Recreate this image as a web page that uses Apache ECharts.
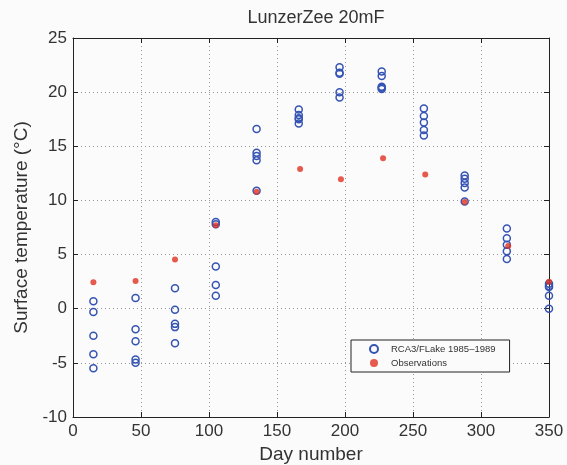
<!DOCTYPE html>
<html>
<head>
<meta charset="utf-8">
<script src="https://cdn.jsdelivr.net/npm/echarts@6/dist/echarts.min.js"></script>
<style>
html,body{margin:0;padding:0;background:#fbfbfc;}
#chart{width:567px;height:465px;}
</style>
</head>
<body>
<div id="chart"></div>
<script>
var titleText = 'LunzerZee 20mF';
var xTicks = [0, 50, 100, 150, 200, 250, 300, 350];
var yTicks = [-10, -5, 0, 5, 10, 15, 20, 25];
var modelDays = [15, 46, 75, 105, 135, 166, 196, 227, 258, 288, 319, 350];
var modelRuns = [
  [0.7, -0.3, -2.5, -4.2, -5.5],
  [1.0, -1.9, -3.0, -4.7, -5.0],
  [1.9, -0.1, -1.4, -1.7, -3.2],
  [8.0, 7.8, 3.9, 2.2, 1.2],
  [16.6, 14.4, 14.1, 13.7, 10.9],
  [18.4, 17.9, 17.6, 17.5, 17.1],
  [22.3, 21.8, 21.7, 20.0, 19.5],
  [21.9, 21.5, 20.5, 20.4, 20.3],
  [18.5, 17.8, 17.2, 16.5, 16.0],
  [12.3, 12.0, 11.6, 11.2, 9.9],
  [7.4, 6.5, 5.9, 5.3, 4.6],
  [2.3, 2.1, 2.0, 1.2, 0.0]
];
var obsDays = [15, 46, 75, 105, 135, 167, 197, 228, 259, 288, 320, 350];
var obsValues = [2.45, 2.55, 4.55, 7.7, 10.8, 12.9, 11.95, 13.9, 12.4, 9.85, 5.8, 2.5];
var modelName = 'RCA3/FLake 1985\u20131989';
var obsName = 'Observations';

var modelData = [];
modelDays.forEach(function (d, i) {
  modelRuns[i].forEach(function (v) { modelData.push([d, v]); });
});
var obsData = obsDays.map(function (d, i) { return [d, obsValues[i]]; });

var font = 'Liberation Sans, Arial, Helvetica, sans-serif';
var textColor = '#333';
var chart = echarts.init(document.getElementById('chart'), null, {renderer: 'canvas'});
var xMin = xTicks[0], xMax = xTicks[xTicks.length - 1];
var yMin = yTicks[0], yMax = yTicks[yTicks.length - 1];

function baseAxis(extra) {
  return Object.assign({
    type: 'value',
    axisLine: {show: true, onZero: false, lineStyle: {color: '#222', width: 1}},
    axisTick: {show: true, inside: true, length: 5, lineStyle: {color: '#222'}},
    splitLine: {show: false}
  }, extra);
}

chart.setOption({
  backgroundColor: '#fbfbfc',
  animation: false,
  title: {
    text: titleText, left: 311, top: 4, textAlign: 'center',
    textStyle: {fontFamily: font, fontSize: 18, fontWeight: 'normal', color: textColor}
  },
  grid: {left: 73, right: 18, top: 38, bottom: 48, containLabel: false, outerBoundsMode: 'none'},
  legend: {
    left: 351, top: 340, orient: 'vertical',
    itemWidth: 8, itemHeight: 8, itemGap: 4,
    padding: [4, 14, 4, 18],
    borderColor: '#222', borderWidth: 1,
    backgroundColor: '#fbfbfc',
    textStyle: {fontFamily: font, fontSize: 9.5, color: textColor, padding: [0, 0, 0, 8]},
    data: [modelName, obsName]
  },
  xAxis: [
    baseAxis({
      min: xMin, max: xMax, interval: 50, position: 'bottom',
      name: 'Day number', nameLocation: 'middle', nameGap: 19,
      nameTextStyle: {fontFamily: font, fontSize: 19, color: textColor},
      axisLabel: {fontFamily: font, fontSize: 17, color: textColor, margin: 6},
      splitLine: {show: true, lineStyle: {color: '#999', type: [1, 3], width: 1}}
    }),
    baseAxis({min: xMin, max: xMax, interval: 50, position: 'top', axisLabel: {show: false}})
  ],
  yAxis: [
    baseAxis({
      min: yMin, max: yMax, interval: 5, position: 'left',
      name: 'Surface temperature (\u00B0C)', nameLocation: 'middle', nameGap: 39,
      nameTextStyle: {fontFamily: font, fontSize: 19, color: textColor},
      axisLabel: {fontFamily: font, fontSize: 17, color: textColor, margin: 6},
      splitLine: {show: true, lineStyle: {color: '#999', type: [1, 3], width: 1}}
    }),
    baseAxis({min: yMin, max: yMax, interval: 5, position: 'right', axisLabel: {show: false}})
  ],
  series: [
    {
      name: modelName, type: 'scatter', data: modelData,
      symbol: 'circle', symbolSize: 7,
      itemStyle: {color: 'rgba(0,0,0,0)', borderColor: '#3553b3', borderWidth: 1.5, opacity: 1},
      z: 2
    },
    {
      name: obsName, type: 'scatter', data: obsData,
      symbol: 'circle', symbolSize: 6,
      itemStyle: {color: '#e0321f', borderWidth: 0},
      z: 3
    }
  ]
});
</script>
</body>
</html>
